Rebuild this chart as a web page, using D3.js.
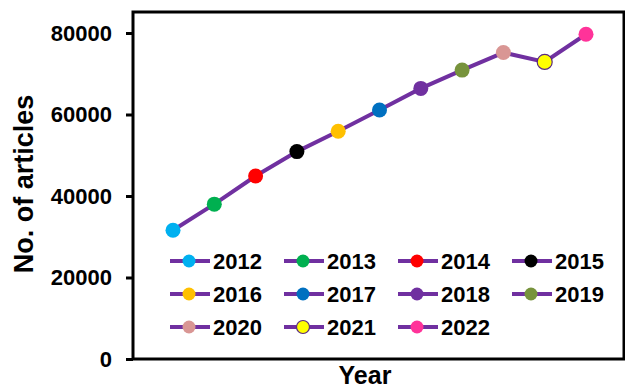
<!DOCTYPE html>
<html>
<head>
<meta charset="utf-8">
<script src="https://cdn.jsdelivr.net/npm/d3@7"></script>
<style>
  body { margin: 0; background: #fff; }
  svg { display: block; font-family: "Liberation Sans", Arial, sans-serif; font-weight: bold; }
</style>
</head>
<body>
<svg width="625" height="391"></svg>
<script>
// данные: год и количество статей
const years = ["2012", "2013", "2014", "2015", "2016", "2017", "2018", "2019", "2020", "2021", "2022"];
const articles = [31600, 38000, 44900, 50900, 55900, 61100, 66400, 70900, 75200, 72900, 79700];
const markerColors = ["#00B0F0", "#00B050", "#FF0000", "#000000", "#FFC000", "#0070C0",
                      "#7030A0", "#77933C", "#D99694", "#FFFF00", "#FF3399"];
const yTicks = [0, 20000, 40000, 60000, 80000];

const svg = d3.select("svg");
const plotLeft = 133, plotRight = 624, plotTop = 12, plotBottom = 359;
const lineColor = "#7030A0";

const x = d3.scalePoint().domain(years).range([173, 586]);
const y = d3.scaleLinear().domain([0, 80000]).range([plotBottom, 33]);

const data = years.map((yr, i) => ({year: yr, value: articles[i], color: markerColors[i]}));

// рамка области графика
svg.append("rect")
    .attr("x", plotLeft).attr("y", plotTop)
    .attr("width", plotRight - plotLeft).attr("height", plotBottom - plotTop)
    .attr("fill", "none").attr("stroke", "#000").attr("stroke-width", 3);

// ось y
const yAxis = svg.append("g")
    .attr("transform", `translate(${plotLeft},0)`)
    .call(d3.axisLeft(y).tickValues(yTicks).tickSize(7).tickPadding(14).tickFormat(d3.format("d")));
yAxis.select(".domain").remove();
yAxis.selectAll(".tick line").attr("stroke", "#000").attr("stroke-width", 3);
yAxis.selectAll(".tick text")
    .attr("fill", "#000")
    .style("font-size", "22px")
    .style("font-family", "'Liberation Sans', Arial, sans-serif")
    .style("font-weight", "bold");

// линия
const line = d3.line()
    .x(d => x(d.year))
    .y(d => y(d.value));

svg.append("path")
    .attr("d", line(data))
    .attr("fill", "none")
    .attr("stroke", lineColor)
    .attr("stroke-width", 4);

svg.selectAll(".pt")
    .data(data)
    .enter().append("circle")
    .attr("class", "pt")
    .attr("cx", d => x(d.year))
    .attr("cy", d => y(d.value))
    .attr("r", 7.5)
    .attr("fill", d => d.color)
    .attr("stroke", d => d.year == "2021" ? "#5a2a80" : "none")
    .attr("stroke-width", 1.2);

// легенда
const colX = [170, 284, 398, 512];
const rowY = [261, 294, 327];
const leg = svg.selectAll(".leg")
    .data(data)
    .enter().append("g")
    .attr("class", "leg")
    .attr("transform", (d, i) => `translate(${colX[i % 4]},${rowY[Math.floor(i / 4)]})`);

leg.append("line")
    .attr("x1", 0).attr("x2", 40)
    .attr("stroke", lineColor).attr("stroke-width", 4);
leg.append("circle")
    .attr("cx", 19).attr("r", 6.5)
    .attr("fill", d => d.color)
    .attr("stroke", d => d.year == "2021" ? "#5a2a80" : "none")
    .attr("stroke-width", 1.2);
leg.append("text")
    .attr("x", 43).attr("y", 8)
    .style("font-size", "22px")
    .text(d => d.year);

// подписи осей
svg.append("text")
    .attr("x", 365).attr("y", 384)
    .attr("text-anchor", "middle")
    .style("font-size", "25px")
    .text("Year");

svg.append("text")
    .attr("transform", "translate(33,184) rotate(-90)")
    .attr("text-anchor", "middle")
    .style("font-size", "27px")
    .text("No. of articles");
</script>
</body>
</html>
